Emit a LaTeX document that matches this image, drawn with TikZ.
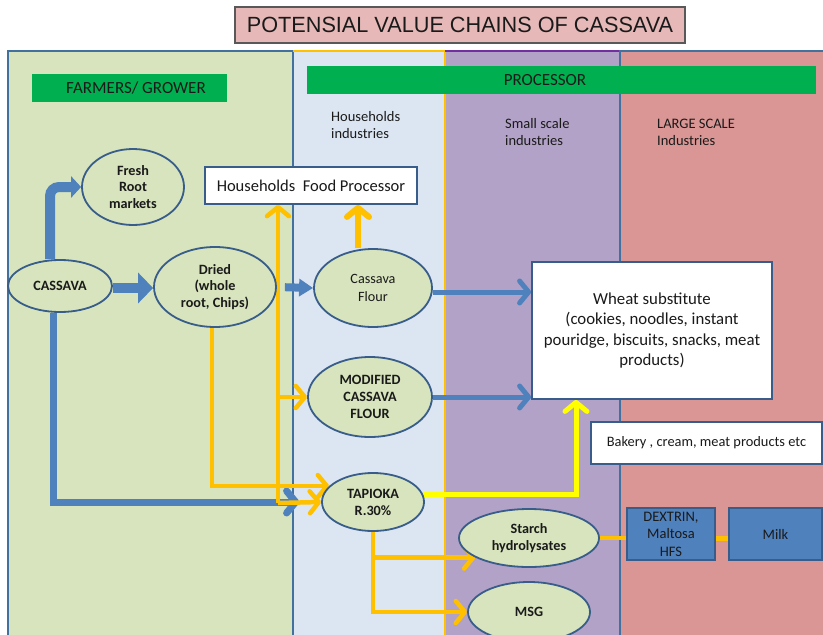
\documentclass[tikz,border=0pt]{standalone}
\usepackage{fontspec}
\setmainfont{Carlito}
\newfontfamily\titlefont{Liberation Sans}
\usetikzlibrary{shapes.geometric,arrows.meta}

\definecolor{ttlfill}{HTML}{E6B9B8}
\definecolor{ttldraw}{HTML}{595959}
\definecolor{growfill}{HTML}{D7E4BD}
\definecolor{housefill}{HTML}{DCE6F2}
\definecolor{smallfill}{HTML}{B3A2C7}
\definecolor{largefill}{HTML}{D99694}
\definecolor{edgeblue}{HTML}{41719C}
\definecolor{nodeedge}{HTML}{385D8A}
\definecolor{barfill}{HTML}{00B050}
\definecolor{flowblue}{HTML}{4F81BD}
\definecolor{floworange}{HTML}{FFC000}
\definecolor{flowyellow}{HTML}{FFFF00}
\definecolor{purpleedge}{HTML}{7030A0}
\definecolor{ink}{HTML}{1A1A1A}

\pgfdeclarelayer{back}
\pgfdeclarelayer{edges}
\pgfsetlayers{back,edges,main}

\begin{document}
\begin{tikzpicture}[x=1pt,y=-1pt,
  stage/.style={ellipse, draw=nodeedge, line width=1.8pt, fill=growfill,
    inner sep=0pt, align=center, text=ink,
    font=\bfseries\fontsize{14.2}{16.8}\selectfont},
  plainstage/.style={stage, font=\fontsize{14.2}{17.5}\selectfont},
  whitebox/.style={rectangle, draw=nodeedge, line width=1.8pt, fill=white,
    inner sep=0pt, align=center, text=ink},
  bluebox/.style={rectangle, draw=nodeedge, line width=1.5pt, fill=flowblue,
    inner sep=0pt, align=center, text=ink,
    font=\fontsize{14.5}{17.5}\selectfont},
  bar/.style={rectangle, fill=barfill, inner sep=0pt, text=ink},
  bartext/.style={text=ink, inner sep=0pt, font=\fontsize{17}{19}\selectfont},
  tierlabel/.style={anchor=west, align=left, inner sep=0pt, text=ink,
    font=\fontsize{14.5}{17}\selectfont},
  blockarrow/.style={line width=10pt, flowblue,
    -{Triangle[length=15pt,width=30pt]}},
  bluelink/.style={line width=5pt, flowblue,
    -{Straight Barb[length=9pt,width=22pt,round]}},
  orangelink/.style={line width=4.5pt, floworange,
    -{Straight Barb[length=9pt,width=22pt,round]}},
  orangeplain/.style={line width=4.5pt, floworange},
  yellowlink/.style={line width=5pt, flowyellow,
    -{Straight Barb[length=9pt,width=22pt,round]}},
]
\useasboundingbox (0,0) rectangle (823,635);

% ---- column panels --------------------------------------------------
\begin{pgfonlayer}{back}
  \begin{scope}
    \clip (0,0) rectangle (823,635);
    \fill[growfill]  (8,51)   rectangle (293,640);
    \fill[housefill] (293,51) rectangle (445,640);
    \fill[smallfill] (445,51) rectangle (620,640);
    \fill[largefill] (620,51) rectangle (830,640);
    \draw[edgeblue, line width=2pt] (8,640) -- (8,51) -- (293,51) -- (293,640);
    \draw[floworange, line width=2pt] (293,51) -- (445,51);
    \draw[floworange, line width=1.5pt] (445,51) -- (445,640);
    \draw[purpleedge, line width=2.5pt] (445,51) -- (620,51);
    \draw[edgeblue, line width=2pt] (620,640) -- (620,51) -- (830,51);
  \end{scope}
\end{pgfonlayer}

% ---- title and headings ---------------------------------------------
\node[draw=ttldraw, fill=ttlfill, line width=1.2pt, minimum width=450pt,
  minimum height=36pt, inner sep=0pt, text=ink] (title) at (460,25)
  {\titlefont\fontsize{22}{22}\selectfont\scalebox{0.985}[1]{POTENSIAL VALUE CHAINS OF CASSAVA}};

\node[bar, minimum width=195pt, minimum height=28pt] (farmbar) at (129.5,88) {};
\node[bartext] (farmtxt) at (136,88) {FARMERS/ GROWER};
\node[bar, minimum width=509pt, minimum height=28pt] (procbar) at (561.5,80) {};
\node[bartext] (proctxt) at (545,80) {PROCESSOR};

\node[tierlabel] (hhlabel) at (331,125) {Households\\industries};
\node[tierlabel] (smlabel) at (505,132) {Small scale\\industries};
\node[tierlabel] (lglabel) at (657,132) {LARGE SCALE\\Industries};

% ---- products -------------------------------------------------------
\node[stage, minimum width=102pt, minimum height=76pt] (fresh) at (133,187) {Fresh\\Root\\markets};
\node[stage, minimum width=104pt, minimum height=52pt] (cassava) at (60,286) {CASSAVA};
\node[stage, minimum width=122pt, minimum height=80pt] (dried) at (215,287) {Dried\\(whole\\root, Chips)};
\node[plainstage, minimum width=118pt, minimum height=78pt] (flour) at (373,288) {Cassava\\Flour};
\node[stage, minimum width=124pt, minimum height=80pt] (modified) at (370,397) {MODIFIED\\CASSAVA\\FLOUR};
\node[stage, minimum width=102pt, minimum height=58pt] (tapioka) at (373,502) {TAPIOKA\\R.30\%};
\node[stage, minimum width=140pt, minimum height=58pt] (starch) at (529,538) {Starch\\hydrolysates};
\node[stage, minimum width=122pt, minimum height=60pt] (msg) at (529,612) {MSG};

\node[whitebox, minimum width=212pt, minimum height=37pt,
  font=\fontsize{16.5}{19}\selectfont] (hfp) at (311,185.5) {Households\ \ Food Processor};
\node[whitebox, minimum width=240pt, minimum height=137pt,
  font=\fontsize{16.8}{20.6}\selectfont] (wheat) at (652,330.5)
  {Wheat substitute\\ (cookies, noodles, instant\\pouridge, biscuits, snacks, meat\\products)};
\node[whitebox, minimum width=231pt, minimum height=42pt,
  font=\fontsize{14.4}{16}\selectfont] (bakery) at (706.5,443) {Bakery , cream, meat products etc};
\node[bluebox, minimum width=88pt, minimum height=52pt] (dextrin) at (671,534) {DEXTRIN,\\Maltosa\\HFS};
\node[bluebox, minimum width=93pt, minimum height=52pt] (milk) at (775.5,534) {Milk};

% ---- flows ----------------------------------------------------------
\coordinate (fup) at ([xshift=-15pt]flour.north);
\coordinate (trunk) at (278,503);
\begin{pgfonlayer}{edges}
  % fresh roots and drying
  \draw[blockarrow, line width=10pt, rounded corners=9pt,
    -{Triangle[length=10pt,width=21pt]}]
    ([xshift=-10pt]cassava.north) |- (fresh.west);
  \draw[blockarrow] ([yshift=-2pt]cassava.east) -- ([yshift=-2pt]cassava.east -| dried.west);
  \draw[blockarrow, line width=8pt, -{Triangle[length=14pt,width=17pt]}, shorten <=8pt]
    (dried.east) -- (flour.west);
  % fresh cassava straight to tapioka
  \draw[bluelink, line width=7pt, shorten >=22pt]
    ([xshift=-7pt]cassava.south) |- (tapioka.west);
  % household flows
  \draw[orangelink, line width=6pt] (fup) -- (fup |- hfp.south);
  \draw[orangelink] (trunk) -- (trunk |- hfp.south);
  \draw[orangelink] (trunk |- modified.west) -- (modified.west);
  \draw[orangelink] (trunk) -- (tapioka.west);
  \draw[orangelink] ([xshift=-3pt]dried.south) |- (tapioka.160);
  % flours to wheat substitute
  \draw[bluelink] ([yshift=-4pt]flour.east) -- ([yshift=-4pt]flour.east -| wheat.west);
  \draw[bluelink] (modified.east) -- (modified.east -| wheat.west);
  \draw[yellowlink] (tapioka.8) -| ([xshift=-76pt]wheat.south);
  % starch branch
  \draw[orangelink] (tapioka.south) |- (starch.200);
  \draw[orangelink] (tapioka.south) |- (msg.west);
  \draw[orangeplain] (starch.east) -- (starch.east -| dextrin.west);
  \draw[orangeplain, line width=5pt, shorten <=-8pt] ([yshift=-4pt]dextrin.east) -- ([yshift=-4pt]milk.west);
\end{pgfonlayer}
\end{tikzpicture}
\end{document}
